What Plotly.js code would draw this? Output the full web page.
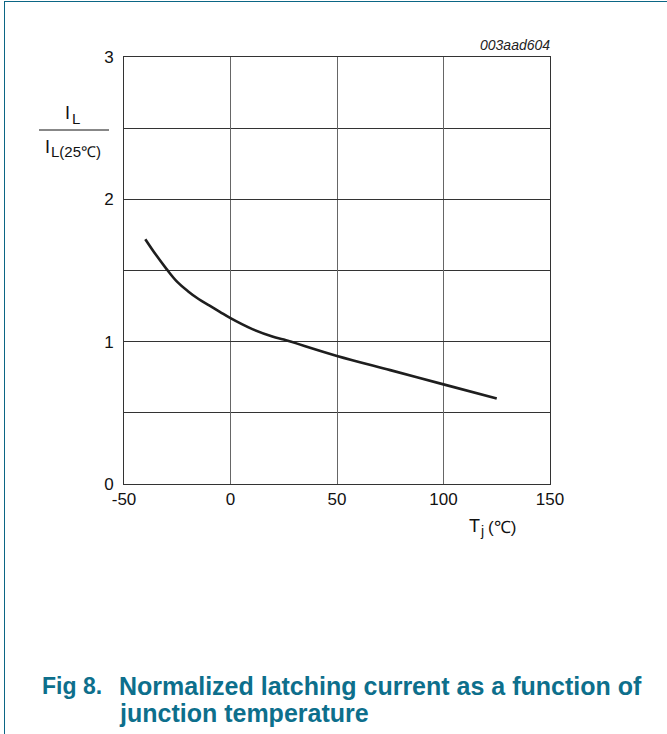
<!DOCTYPE html>
<html>
<head>
<meta charset="utf-8">
<script src="https://cdn.plot.ly/plotly-3.0.1.min.js"></script>
<style>
html,body{margin:0;padding:0;background:#fff;}
#frame{position:absolute;left:4px;top:1px;width:663px;height:733px;border-left:1.5px solid #0b6685;border-top:1.5px solid #0b6685;box-sizing:border-box;}
#chart{position:absolute;left:0;top:0;width:667px;height:734px;}
</style>
</head>
<body>
<div id="frame"></div>
<div id="chart"></div>
<script>
// Junction temperature (°C)
const tj = [-40, -35, -30, -25, -20, -15, -10, -5, 0, 10, 20, 25, 50, 75, 100, 125];
// Normalized latching current IL / IL(25°C)
const ilNorm = [1.72, 1.61, 1.51, 1.42, 1.355, 1.30, 1.255, 1.21, 1.165, 1.09, 1.035, 1.015, 0.90, 0.80, 0.70, 0.60];
const xTicks = [-50, 0, 50, 100, 150];
const yTicks = [0, 1, 2, 3];

const L = 124, R = 550, T = 57, B = 484;
const px = v => (v - L) / (R - L);
const py = v => (B - v) / (B - T);
const teal = '#0d6f8c';
const ink = '#111';

const trace = {
  x: tj, y: ilNorm, type: 'scatter', mode: 'lines',
  line: {color: '#1e1e1e', width: 2.6, shape: 'spline', smoothing: 1},
  hoverinfo: 'skip'
};

function txt(x, y, text, size, anchor, extra) {
  return Object.assign({xref: 'paper', yref: 'paper', x: px(x), y: py(y), xanchor: anchor || 'center',
    yanchor: 'middle', text: text, showarrow: false, font: {size: size, color: ink}}, extra || {});
}

const layout = {
  width: 667, height: 734,
  margin: {l: L, r: 667 - R, t: T, b: 734 - B},
  paper_bgcolor: 'rgba(0,0,0,0)', plot_bgcolor: '#fff',
  showlegend: false,
  font: {family: 'Liberation Sans, Arial, sans-serif', size: 17, color: ink},
  xaxis: {
    range: [-50, 150], tickvals: xTicks, ticktext: xTicks.map(String),
    showgrid: true, gridcolor: '#666', gridwidth: 1,
    zeroline: false, showline: true, linecolor: '#333', linewidth: 1, mirror: true,
    ticks: '', fixedrange: true, tickfont: {size: 17, color: ink}
  },
  yaxis: {
    range: [0, 3], tickvals: yTicks, ticktext: yTicks.map(String),
    showgrid: true, gridcolor: '#333', gridwidth: 1,
    minor: {dtick: 0.5, showgrid: true, gridcolor: '#333', gridwidth: 1, ticks: ''},
    zeroline: false, showline: true, linecolor: '#333', linewidth: 1, mirror: true,
    ticks: '', fixedrange: true, tickfont: {size: 17, color: ink}, ticklabelstandoff: 6
  },
  shapes: [
    {type: 'line', xref: 'paper', yref: 'paper', x0: px(39), x1: px(109), y0: py(130), y1: py(130),
     line: {color: ink, width: 1}}
  ],
  annotations: [
    txt(552, 45, '<i>003aad604</i>', 14, 'right', {font: {size: 14, color: '#222'}}),
    // y-axis label: IL / IL(25℃)
    txt(67.5, 113, 'I', 18),
    txt(76, 118, 'L', 15),
    txt(47, 147, 'I', 18),
    txt(49, 151, 'L(25℃)', 15, 'left'),
    // x-axis label: Tj (℃)
    txt(474.5, 526, 'T', 18),
    txt(481.5, 531, 'j', 14),
    txt(486, 527, '(℃)', 17, 'left'),
    // caption
    txt(40, 686, '<b>Fig 8.</b>', 23, 'left', {font: {size: 23, color: teal}}),
    txt(117, 686, '<b>Normalized latching current as a function of</b>', 25, 'left', {font: {size: 25, color: teal}}),
    txt(117, 713, '<b>junction temperature</b>', 25, 'left', {font: {size: 25, color: teal}})
  ]
};

Plotly.newPlot('chart', [trace], layout, {displayModeBar: false, staticPlot: true});
</script>
</body>
</html>
